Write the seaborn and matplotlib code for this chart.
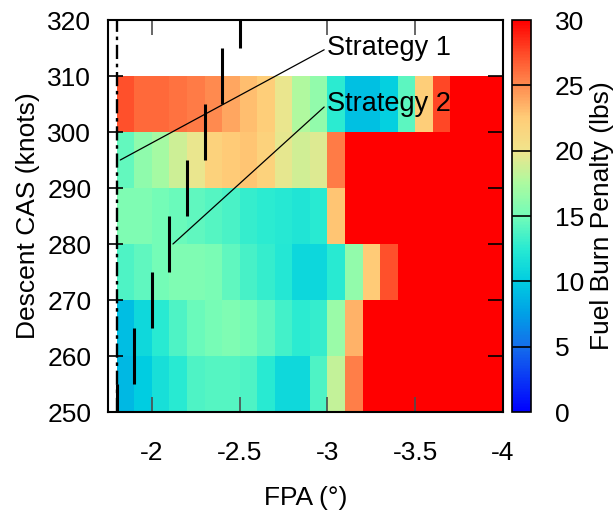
import numpy as np
import pandas as pd
import matplotlib
matplotlib.use("Agg")
import matplotlib.pyplot as plt
from matplotlib.colors import LinearSegmentedColormap
import seaborn as sns

# grid: FPA cell edges (left edge of each 0.1 deg cell) and CAS rows (bottom of each 10 kt row)
fpa_cols = [-1.8, -1.9, -2.0, -2.1, -2.2, -2.3, -2.4, -2.5, -2.6, -2.7, -2.8,
            -2.9, -3.0, -3.1, -3.2, -3.3, -3.4, -3.5, -3.6, -3.7, -3.8, -3.9]
cas_rows = [250, 260, 270, 280, 290, 300]

# fuel burn penalty (lbs), one list per CAS row
penalty_250 = [8.9, 10.0, 11.5, 12.5, 13.8, 14.0, 14.0, 13.8, 12.5, 11.0, 11.0,
               13.8, 18.3, 25.5, 30, 30, 30, 30, 30, 30, 30, 30]
penalty_260 = [9.2, 11.0, 12.5, 13.8, 14.7, 15.2, 15.5, 15.1, 14.4, 13.4, 12.6,
               12.9, 16.7, 23.5, 30, 30, 30, 30, 30, 30, 30, 30]
penalty_270 = [13.8, 14.3, 15.0, 15.5, 15.5, 15.3, 14.4, 13.5, 13.0, 12.2, 10.8,
               10.8, 12.5, 16.3, 22.5, 27.3, 30, 30, 30, 30, 30, 30]
penalty_280 = [15.5, 15.5, 15.0, 14.7, 14.3, 14.0, 13.6, 13.0, 12.6, 12.4, 12.0,
               12.5, 22.8, 30, 30, 30, 30, 30, 30, 30, 30, 30]
penalty_290 = [14.5, 16.2, 17.2, 18.7, 19.7, 22.0, 22.5, 22.8, 22.0, 19.6, 18.8,
               19.3, 25.6, 30, 30, 30, 30, 30, 30, 30, 30, 30]
penalty_300 = [27.3, 26.3, 26.3, 26.0, 25.6, 25.0, 24.0, 23.0, 22.3, 19.7, 17.6,
               16.3, 12.6, 9.3, 9.3, 10.3, 14.2, 22.3, 27.6, 30, 30, 30]

# strategies
strategy1_fpa = -1.8
strategy2_fpa = [-1.8, -1.9, -2.0, -2.1, -2.2, -2.3, -2.4, -2.5]
strategy2_cas = [250, 260, 270, 280, 290, 300, 310, 320]

x_ticks = [-2, -2.5, -3, -3.5, -4]
x_ticklabels = ["-2", "-2.5", "-3", "-3.5", "-4"]
y_ticks = [250, 260, 270, 280, 290, 300, 310, 320]
cb_ticks = [0, 5, 10, 15, 20, 25, 30]

# palette (value, colour)
palette = [(0, (0, 0, 255)), (5, (20, 110, 235)), (7.5, (0, 160, 230)),
           (10, (0, 205, 225)), (12.5, (40, 234, 210)), (15, (115, 252, 184)),
           (17.5, (172, 250, 160)), (20, (240, 228, 140)), (22.5, (255, 205, 120)),
           (25, (255, 140, 80)), (27.5, (255, 75, 40)), (30, (255, 0, 0))]
cmap = LinearSegmentedColormap.from_list(
    "penalty", [(v / 30, tuple(c / 255 for c in rgb)) for v, rgb in palette])

sns.set_theme(style="white")
plt.rcParams["font.family"] = ["Liberation Sans", "DejaVu Sans"]
plt.rcParams.update({
    "font.size": 19, "axes.labelsize": 19, "xtick.labelsize": 19, "ytick.labelsize": 19,
    "text.color": "black", "axes.labelcolor": "black",
    "xtick.color": "black", "ytick.color": "black",
})

df = pd.DataFrame([penalty_250, penalty_260, penalty_270, penalty_280,
                   penalty_290, penalty_300], index=cas_rows, columns=fpa_cols)

fig = plt.figure(figsize=(6.13, 5.12), dpi=100)
rect = [108 / 613, 1 - 412 / 512, 395 / 613, 392 / 512]
ax = fig.add_axes(rect)
cax = fig.add_axes([512 / 613, 1 - 412 / 512, 19 / 613, 392 / 512])

xlim = (-1.75, -4.0)
ylim = (250, 320)
step_x, step_y = -0.1, 10

sns.heatmap(df, ax=ax, cbar_ax=cax, cmap=cmap, vmin=0, vmax=30,
            xticklabels=False, yticklabels=False, linewidths=0)
# heatmap works in cell index units: map the real axis range onto them
ax.set_xlim((xlim[0] - fpa_cols[0]) / step_x, (xlim[1] - fpa_cols[0]) / step_x)
ax.set_ylim((ylim[0] - cas_rows[0]) / step_y, (ylim[1] - cas_rows[0]) / step_y)
ax.set_xticks([])
ax.set_yticks([])

# overlay axes in real FPA / CAS units
ov = fig.add_axes(rect, facecolor="none")
ov.set_xlim(*xlim)
ov.set_ylim(*ylim)
for s in ov.spines.values():
    s.set_color("black")
    s.set_linewidth(1.5)
ov.set_xticks(x_ticks)
ov.set_xticklabels(x_ticklabels)
ov.set_yticks(y_ticks)
ov.tick_params(axis="x", direction="in", length=11, width=1.2, color="0.3",
               top=True, bottom=True, pad=21, labelsize=19, labelcolor="black")
ov.tick_params(axis="y", direction="in", length=11, width=1.2, color="black",
               left=True, right=True, pad=12, labelsize=19, labelcolor="black")
ov.set_xlabel("FPA (°)", labelpad=15, fontsize=19)
ov.set_ylabel("Descent CAS (knots)", labelpad=5, fontsize=19)

# strategy 1: constant FPA
ov.axvline(strategy1_fpa, color="black", lw=1.7, ls=(0, (6, 2, 1.5, 2)))
# strategy 2: one speed band per FPA
ov.vlines(strategy2_fpa, [c - 5 for c in strategy2_cas], [c + 5 for c in strategy2_cas],
          color="black", lw=2.2)

ov.annotate("Strategy 1", xy=(-1.82, 295), xytext=(-3.0, 315), ha="left", va="center",
            fontsize=19.5, color="black",
            arrowprops=dict(arrowstyle="-", lw=0.9, color="black",
                            shrinkA=0, shrinkB=0, relpos=(0, 0.5)))
ov.annotate("Strategy 2", xy=(-2.12, 280), xytext=(-3.0, 305), ha="left", va="center",
            fontsize=19.5, color="black",
            arrowprops=dict(arrowstyle="-", lw=0.9, color="black",
                            shrinkA=0, shrinkB=0, relpos=(0, 0.5)))

# colour bar
cbar = ax.collections[0].colorbar
cbar.set_ticks(cb_ticks)
cbar.ax.tick_params(length=0, pad=17, labelsize=19, labelcolor="black")
cbar.outline.set_edgecolor("black")
cbar.outline.set_linewidth(1.2)
for t in cb_ticks[1:-1]:
    cax.axhline(t, color="black", lw=1.2)
cbar.set_label("Fuel Burn Penalty (lbs)", labelpad=4, fontsize=19, color="black")

fig.savefig("out.png", dpi=100)
